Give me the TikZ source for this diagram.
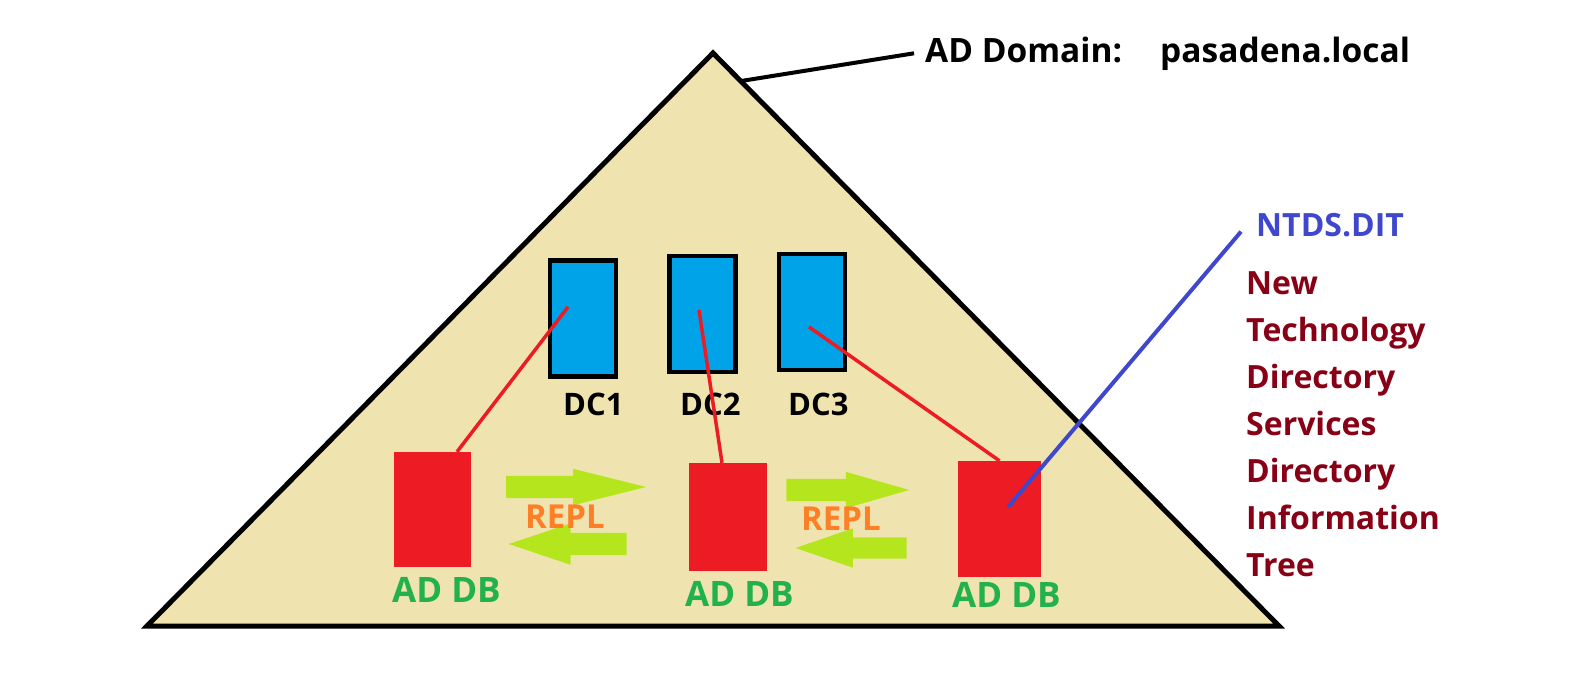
\documentclass[tikz,border=0pt]{standalone}
\usepackage{fontspec}
\setmainfont{Open Sans}
\usetikzlibrary{shapes.arrows,calc}
\definecolor{domaintan}{RGB}{239,228,176}
\definecolor{dcblue}{RGB}{0,162,232}
\definecolor{dbred}{RGB}{237,28,36}
\definecolor{replgreen}{RGB}{181,230,29}
\definecolor{replorange}{RGB}{255,127,39}
\definecolor{dbgreen}{RGB}{34,177,76}
\definecolor{ntdsblue}{RGB}{63,72,204}
\definecolor{termred}{RGB}{136,0,21}
\tikzset{
  dcbox/.style={draw=black,line width=4.5pt,fill=dcblue,minimum width=66pt,minimum height=116pt,inner sep=0pt},
  dbbox/.style={fill=dbred,inner sep=0pt},
  replarrow/.style={single arrow,fill=replgreen,inner xsep=0pt,inner ysep=11pt,single arrow head extend=7pt,anchor=tip},
  dctext/.style={inner sep=0pt,anchor=base west,font=\bfseries\fontsize{31}{36}\selectfont},
  dbtext/.style={inner sep=0pt,anchor=base west,text=dbgreen,font=\bfseries\fontsize{35}{40}\selectfont},
  repltext/.style={inner sep=0pt,anchor=base west,text=replorange,font=\bfseries\fontsize{33}{38}\selectfont},
  link/.style={dbred,line width=3.5pt}
}
\begin{document}
\begin{tikzpicture}[x=1pt,y=-1pt]
\useasboundingbox (0,0) rectangle (1582,699);
\draw[fill=domaintan,line width=5pt] (147,626) coordinate (left) -- (713,53) coordinate (top) -- (1279,626) coordinate (right) -- cycle;

\node[inner sep=0pt,anchor=base west,font=\bfseries\fontsize{33.5}{40}\selectfont] (domain) at (925,62) {AD Domain:\hspace{38pt}pasadena.local};
\draw[line width=4pt] ($(top)!0.049!(right)$) -- ([xshift=-11pt]domain.west);

\node[dcbox] (dc1) at (583,318.5) {};
\node[dcbox] (dc2) at (702.5,314) {};
\node[dcbox] (dc3) at (812,312) {};
\node[dctext] (dc1label) at (563,415) {DC1};
\node[dctext] (dc2label) at (680,415) {DC2};
\node[dctext] (dc3label) at (788,415) {DC3};

\node[dbbox,minimum width=77pt,minimum height=115pt] (db1) at (432.5,509.5) {};
\node[dbbox,minimum width=78pt,minimum height=108pt] (db2) at (728,517) {};
\node[dbbox,minimum width=83pt,minimum height=116pt] (db3) at (999.5,519) {};
\node[dbtext] (db1label) at (392,602) {AD DB};
\node[dbtext] (db2label) at (685,606) {AD DB};
\node[dbtext] (db3label) at (952,607) {AD DB};

\node[replarrow,minimum height=140pt,single arrow tip angle=28] (push1) at (647,487) {};
\node[replarrow,shape border rotate=180,minimum height=118pt,single arrow head extend=9.5pt,single arrow tip angle=37] (pull1) at (508,544) {};
\node[replarrow,minimum height=123pt,single arrow tip angle=32] (push2) at (910,490) {};
\node[replarrow,shape border rotate=180,minimum height=111pt,inner ysep=10.5pt,single arrow head extend=9pt,single arrow tip angle=38] (pull2) at (795,548) {};
\node[repltext] (repl1) at (525,528) {REPL};
\node[repltext] (repl2) at (801,530) {REPL};

\draw[link] ($(dc1)+(-15,-11.5)$) -- ($(db1.north)+(24.5,0)$);
\draw[link] ($(dc2)+(-3.5,-4)$) -- ($(db2.north)+(-6,0)$);
\draw[link] ($(dc3)+(-3,15)$) -- (db3.north);

\node[inner sep=0pt,anchor=base west,text=ntdsblue,font=\bfseries\fontsize{32}{38}\selectfont] (ntds) at (1256,236) {NTDS.DIT};
\draw[ntdsblue,line width=4pt] ($(db3)+(8.5,-12)$) -- ([xshift=-15pt,yshift=-7pt]ntds.west);
\node[inner sep=0pt,anchor=north west,align=left,text=termred,font=\bfseries\fontsize{32}{47}\selectfont] (expansion) at (1246,271) {New\\Technology\\Directory\\Services\\Directory\\Information\\Tree};
\end{tikzpicture}
\end{document}
